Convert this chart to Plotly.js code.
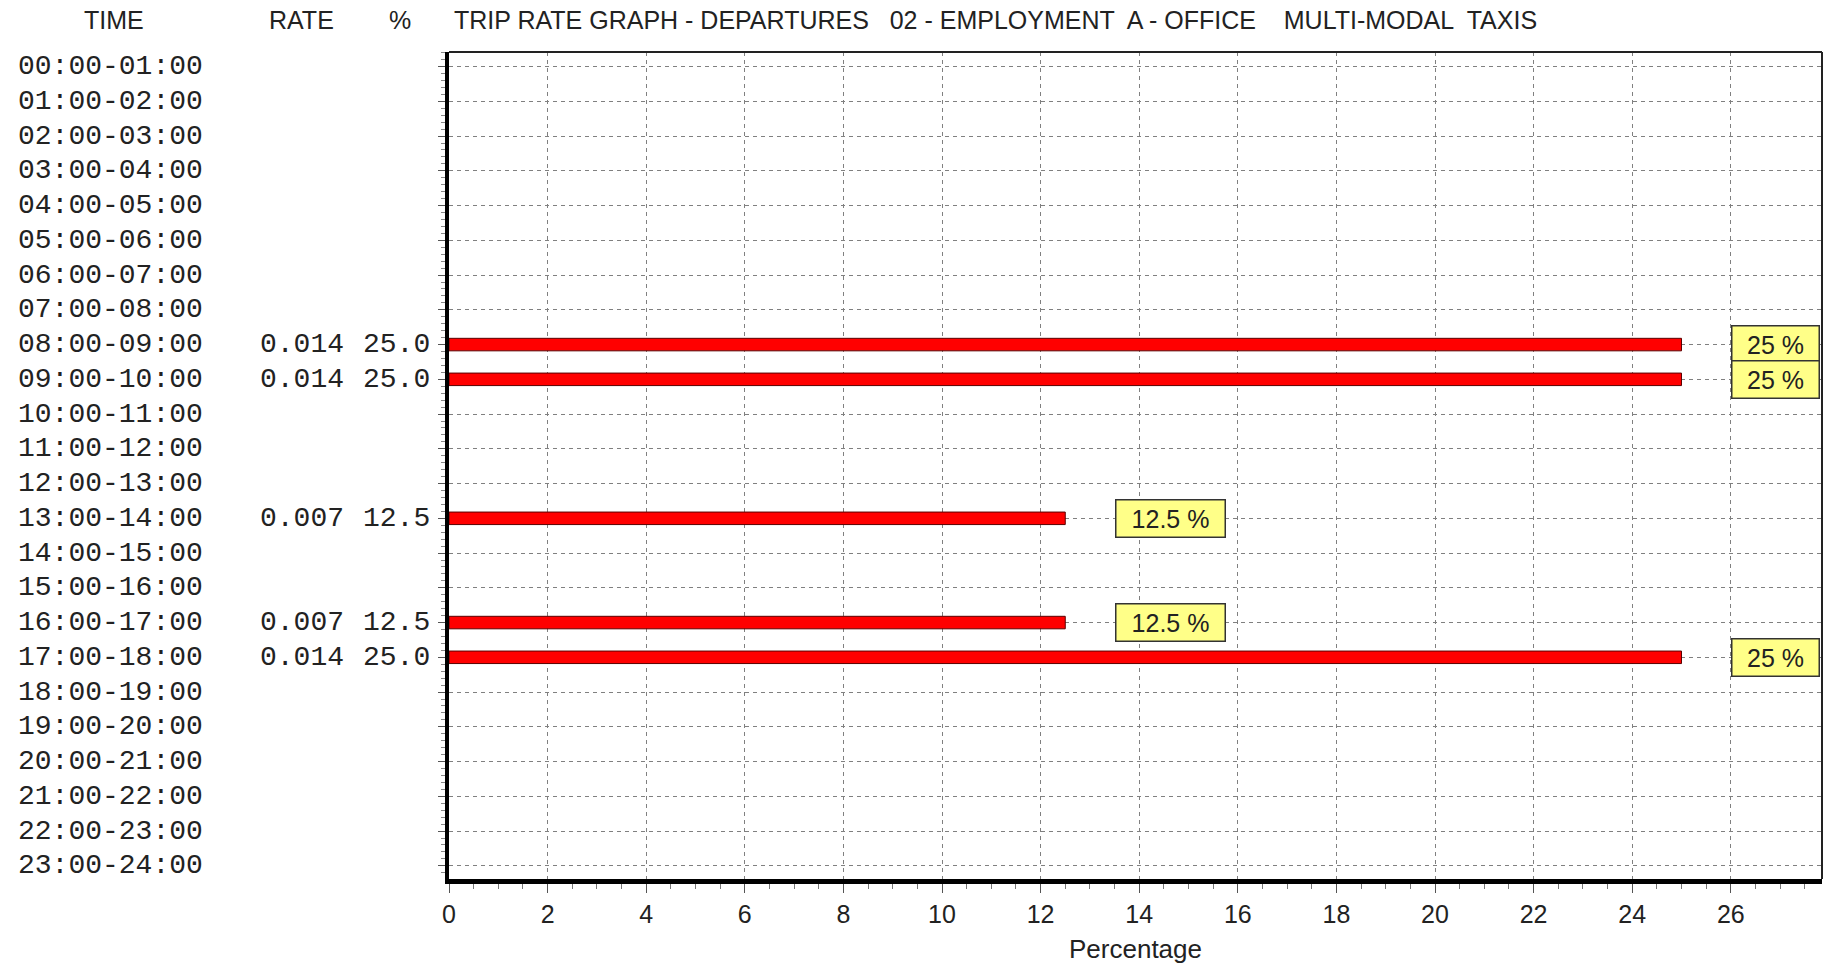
<!DOCTYPE html>
<html>
<head>
<meta charset="utf-8">
<script src="https://cdn.plot.ly/plotly-3.0.1.min.js"></script>
<style>
  html, body { margin: 0; padding: 0; background: #fff; }
  #chart { width: 1828px; height: 967px; }
</style>
</head>
<body>
<div id="chart"></div>
<script>
// ---- data ----
const times = [
  "00:00-01:00","01:00-02:00","02:00-03:00","03:00-04:00","04:00-05:00","05:00-06:00",
  "06:00-07:00","07:00-08:00","08:00-09:00","09:00-10:00","10:00-11:00","11:00-12:00",
  "12:00-13:00","13:00-14:00","14:00-15:00","15:00-16:00","16:00-17:00","17:00-18:00",
  "18:00-19:00","19:00-20:00","20:00-21:00","21:00-22:00","22:00-23:00","23:00-24:00"
];
const rates = [null,null,null,null,null,null,null,null,0.014,0.014,null,null,null,0.007,null,null,0.007,0.014,null,null,null,null,null,null];
const percents = [null,null,null,null,null,null,null,null,25.0,25.0,null,null,null,12.5,null,null,12.5,25.0,null,null,null,null,null,null];
const xTicks = [0,2,4,6,8,10,12,14,16,18,20,22,24,26];
const headers = { time: "TIME", rate: "RATE", pct: "%" };
const titleText = "TRIP RATE GRAPH - DEPARTURES   02 - EMPLOYMENT  A - OFFICE    MULTI-MODAL  TAXIS";
const xTitle = "Percentage";

// ---- layout geometry ----
const W = 1828, H = 967;
const M = { l: 449, r: 6, t: 52, b: 88 };
const plotW = W - M.l - M.r;
const plotH = H - M.t - M.b;
const px2paperX = px => (px - M.l) / plotW;
const py2paperY = py => (H - M.b - py) / plotH;

const MONO = "Liberation Mono, DejaVu Sans Mono, monospace";
const SANS = "Liberation Sans, Arial, sans-serif";

const idx = times.map((_, i) => i);

const trace = {
  type: "bar",
  orientation: "h",
  x: percents,
  y: idx,
  width: 0.36,
  marker: { color: "#ff0000", line: { color: "#5a0000", width: 1 } },
  hoverinfo: "skip"
};

const annotations = [];
// left columns
times.forEach((t, i) => {
  annotations.push({
    xref: "paper", yref: "y", x: px2paperX(16), y: i, xanchor: "left", yanchor: "middle",
    text: t, showarrow: false, font: { family: MONO, size: 28, color: "#222" }
  });
  if (rates[i] !== null) {
    annotations.push({
      xref: "paper", yref: "y", x: px2paperX(346), y: i, xanchor: "right", yanchor: "middle",
      text: rates[i].toFixed(3), showarrow: false, font: { family: MONO, size: 28, color: "#222" }
    });
    annotations.push({
      xref: "paper", yref: "y", x: px2paperX(432), y: i, xanchor: "right", yanchor: "middle",
      text: percents[i].toFixed(1), showarrow: false, font: { family: MONO, size: 28, color: "#222" }
    });
  }
  if (percents[i] !== null) {
    const lbl = String(percents[i]) + " %";
    annotations.push({
      xref: "x", yref: "y", x: percents[i] + 1.0, y: i, xanchor: "left", yanchor: "middle",
      text: lbl, showarrow: false,
      font: { family: SANS, size: 25, color: "#222" },
      bgcolor: "#ffff88", bordercolor: "#333", borderwidth: 1.5, borderpad: 4,
      width: lbl.length * 11 + 34, height: 28
    });
  }
});
// headers
annotations.push(
  { xref: "paper", yref: "paper", x: px2paperX(114), y: py2paperY(20), xanchor: "center", yanchor: "middle",
    text: headers.time, showarrow: false, font: { family: SANS, size: 25, color: "#222" } },
  { xref: "paper", yref: "paper", x: px2paperX(301), y: py2paperY(20), xanchor: "center", yanchor: "middle",
    text: headers.rate, showarrow: false, font: { family: SANS, size: 25, color: "#222" } },
  { xref: "paper", yref: "paper", x: px2paperX(400), y: py2paperY(20), xanchor: "center", yanchor: "middle",
    text: headers.pct, showarrow: false, font: { family: SANS, size: 25, color: "#222" } },
  { xref: "paper", yref: "paper", x: px2paperX(452), y: py2paperY(20), xanchor: "left", yanchor: "middle",
    text: titleText, showarrow: false,
    font: { family: SANS, size: 25, color: "#222" } }
);

const layout = {
  width: W, height: H,
  margin: M,
  paper_bgcolor: "#ffffff",
  plot_bgcolor: "#ffffff",
  showlegend: false,
  bargap: 0,
  xaxis: {
    range: [0, 27.85],
    tickvals: xTicks,
    ticktext: xTicks.map(String),
    ticks: "outside", ticklen: 9, tickwidth: 1, tickcolor: "#555",
    minor: { dtick: 0.5, ticks: "outside", ticklen: 5, tickcolor: "#777", showgrid: false },
    showgrid: true, gridcolor: "#808080", gridwidth: 1, griddash: "4px,4px",
    zeroline: false,
    showline: true, linecolor: "#000", linewidth: 5,
    tickfont: { family: SANS, size: 25, color: "#222" },
    title: { text: xTitle, font: { family: SANS, size: 26, color: "#222" }, standoff: 14 },
    fixedrange: true
  },
  yaxis: {
    range: [23.38, -0.42],
    tickvals: idx,
    ticktext: idx.map(() => ""),
    ticks: "outside", ticklen: 7, tickwidth: 1, tickcolor: "#555",
    minor: { dtick: 0.2, ticks: "outside", ticklen: 4, tickcolor: "#888", showgrid: false },
    showgrid: true, gridcolor: "#808080", gridwidth: 1, griddash: "4px,4px",
    zeroline: false,
    showline: true, linecolor: "#000", linewidth: 4,
    fixedrange: true
  },
  shapes: [
    { type: "line", xref: "paper", yref: "paper", x0: 0, x1: 1, y0: 1, y1: 1, line: { color: "#222", width: 2 } },
    { type: "line", xref: "paper", yref: "paper", x0: 1, x1: 1, y0: 0, y1: 1, line: { color: "#222", width: 2 } }
  ],
  annotations: annotations
};

Plotly.newPlot("chart", [trace], layout, { staticPlot: true, displayModeBar: false });
</script>
</body>
</html>
